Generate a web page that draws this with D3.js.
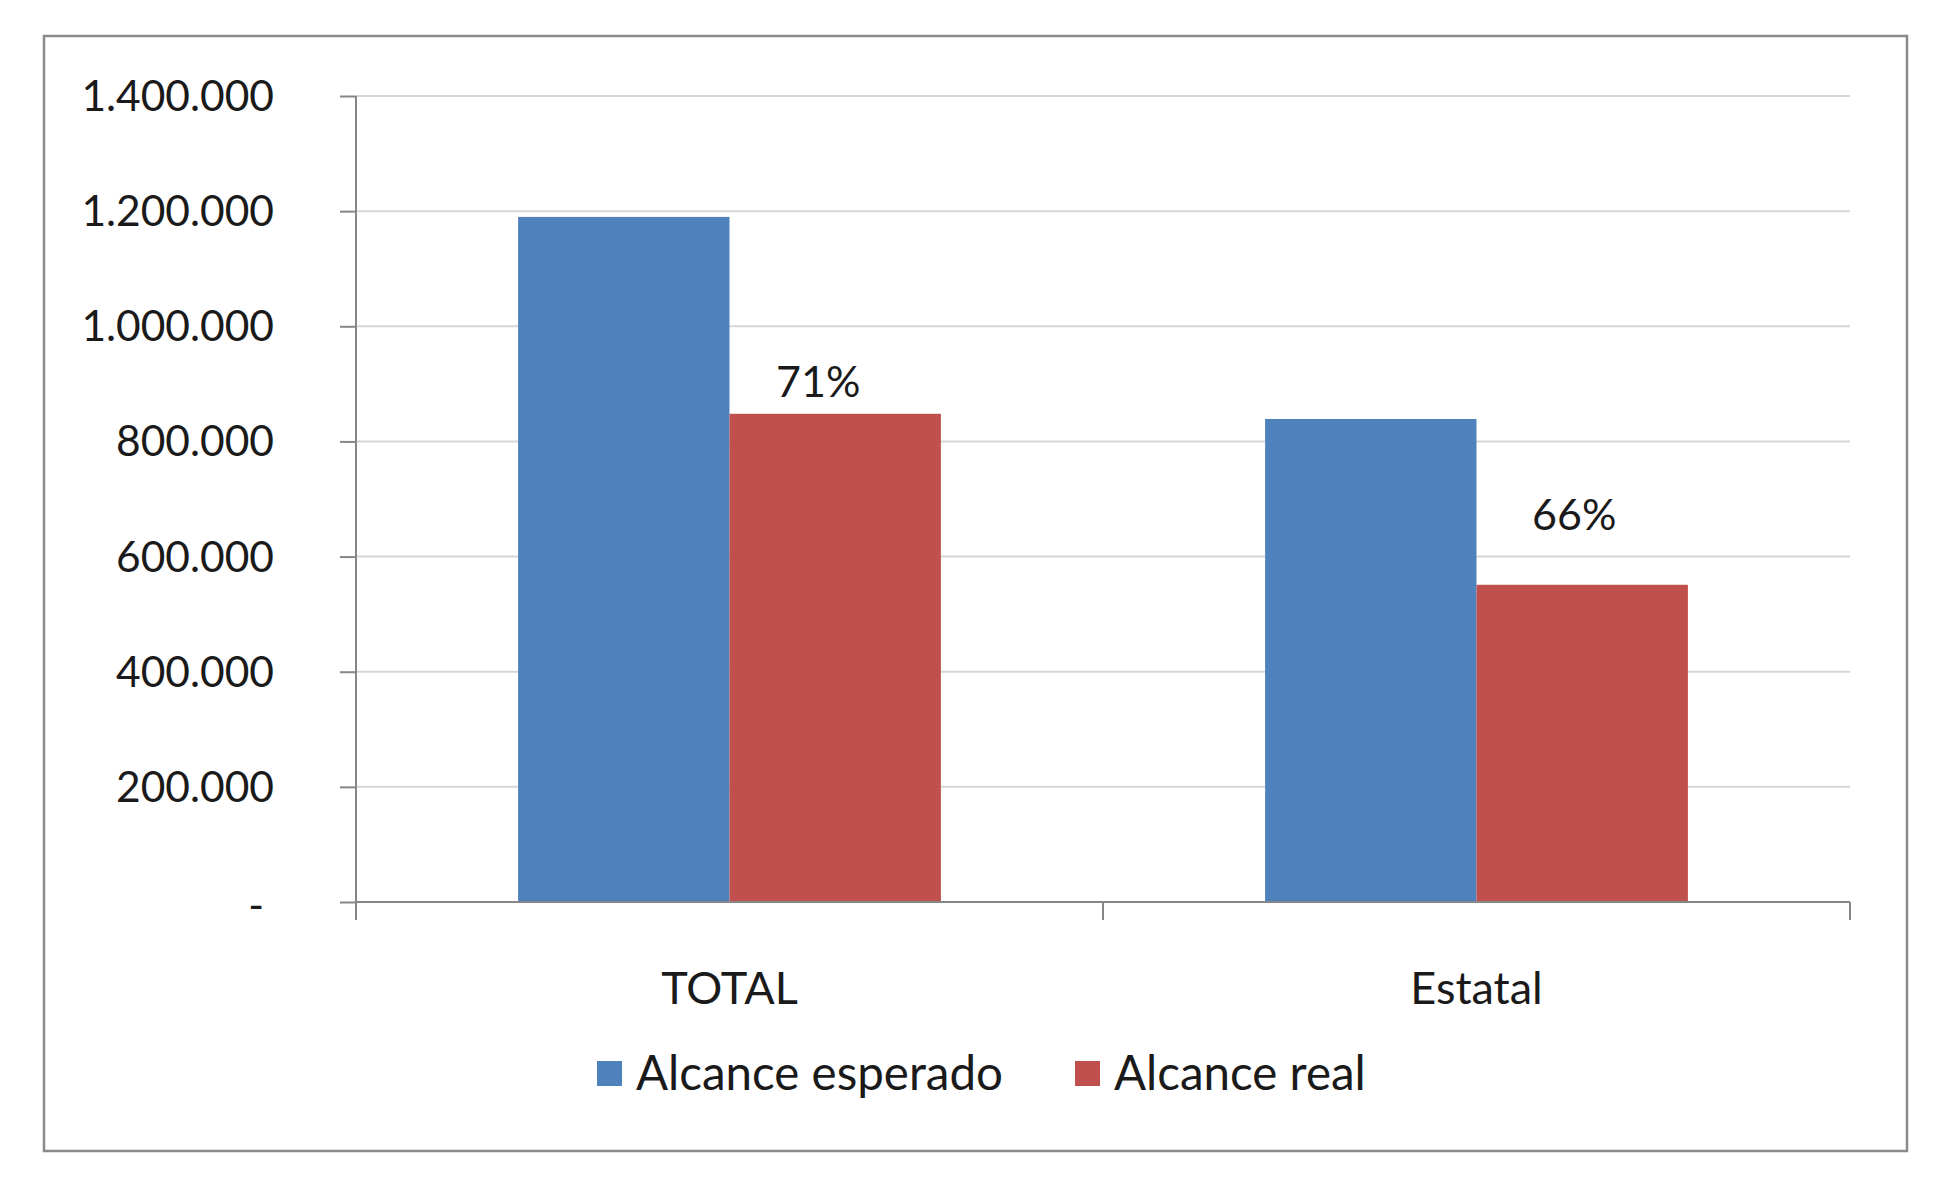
<!DOCTYPE html>
<html><head><meta charset="utf-8">
<script src="https://cdn.jsdelivr.net/npm/d3@7"></script>
<style>
html,body{margin:0;padding:0;background:#fff;}
svg text{font-family:Lato,"Open Sans",sans-serif;fill:#1a1a1a;}
</style></head>
<body>
<svg id="chart" width="1960" height="1199"></svg>
<script>
// ---- data ----
const categories = ["TOTAL", "Estatal"];
const seriesNames = ["Alcance esperado", "Alcance real"];
const alcanceEsperado = [1190000, 839000];
const alcanceReal = [848000, 551000];
const percentLabels = ["71%", "66%"];
const yTicks = [0, 200000, 400000, 600000, 800000, 1000000, 1200000, 1400000];
const colors = ["#4F81BD", "#C0504D"];

(function () {
const svg = d3.select("#chart");

// frame
svg.append("rect").attr("x", 44).attr("y", 36).attr("width", 1863).attr("height", 1115)
  .attr("fill", "#fff").attr("stroke", "#8a8a8a").attr("stroke-width", 2.5);

const pL = 356, pR = 1850, pT = 96, pB = 902;
const pad = 0.434;

const y = d3.scaleLinear().domain([0, 1400000]).range([pB, pT]);
const x0 = d3.scaleBand().domain(categories).range([pL, pR]).paddingInner(pad).paddingOuter(pad / 2);
const x1 = d3.scaleBand().domain(seriesNames).range([0, x0.bandwidth()]).padding(0);

const loc = d3.formatLocale({decimal: ",", thousands: ".", grouping: [3], currency: ["", ""]});
const fmt = loc.format(",d");

// gridlines
svg.append("g").selectAll("line").data(yTicks.filter(d => d > 0)).join("line")
  .attr("x1", pL).attr("x2", pR)
  .attr("y1", d => y(d)).attr("y2", d => y(d))
  .attr("stroke", "#d6d6d6").attr("stroke-width", 2);

// bars
const rows = categories.map((c, i) => ({cat: c, vals: [alcanceEsperado[i], alcanceReal[i]]}));
const g = svg.append("g").selectAll("g").data(rows).join("g")
  .attr("transform", d => `translate(${x0(d.cat)},0)`);
g.selectAll("rect").data(d => d.vals.map((v, j) => ({name: seriesNames[j], v, j}))).join("rect")
  .attr("x", d => x1(d.name)).attr("width", x1.bandwidth())
  .attr("y", d => y(d.v)).attr("height", d => y(0) - y(d.v))
  .attr("fill", d => colors[d.j]);

// y axis
const yAxis = d3.axisLeft(y).tickValues(yTicks).tickSize(16).tickPadding(66)
  .tickFormat(d => d === 0 ? "-" : fmt(d));
const ya = svg.append("g").attr("transform", `translate(${pL},0)`).call(yAxis);
ya.select(".domain").remove();
ya.selectAll(".tick line").attr("stroke", "#868686").attr("stroke-width", 2);
ya.selectAll(".tick text").attr("font-size", 42.5).attr("fill", "#1a1a1a")
  .attr("font-family", "Lato, sans-serif")
  .attr("dx", d => d === 0 ? -10 : 0).attr("dy", d => d === 0 ? "0.42em" : "0.34em");
svg.append("line").attr("x1", pL).attr("x2", pL).attr("y1", pT).attr("y2", pB + 18)
  .attr("stroke", "#868686").attr("stroke-width", 2);

// x axis
svg.append("line").attr("x1", pL).attr("x2", pR).attr("y1", pB).attr("y2", pB)
  .attr("stroke", "#868686").attr("stroke-width", 2);
const bounds = [pL, ...categories.map(c => x0(c) + x0.bandwidth() + x0.step() * pad / 2)];
svg.append("g").selectAll("line").data(bounds).join("line")
  .attr("x1", d => d).attr("x2", d => d).attr("y1", pB).attr("y2", pB + 18)
  .attr("stroke", "#868686").attr("stroke-width", 2);
svg.append("g").selectAll("text").data(categories).join("text")
  .attr("x", d => x0(d) + x0.bandwidth() / 2).attr("y", 1004)
  .attr("text-anchor", "middle").attr("font-size", 45).text(d => d);

// data labels
const labelOffset = [17, 55];
svg.append("g").selectAll("text").data(rows).join("text")
  .attr("x", (d, i) => x0(d.cat) + x1(seriesNames[1]) + x1.bandwidth() / 2 - [17, 8][i])
  .attr("y", (d, i) => y(d.vals[1]) - labelOffset[i])
  .attr("text-anchor", "middle").attr("font-size", 43).text((d, i) => percentLabels[i]);

// legend
const legend = svg.append("g");
const legX = [597, 1075];
seriesNames.forEach((n, i) => {
  legend.append("rect").attr("x", legX[i]).attr("y", 1061).attr("width", 25).attr("height", 25).attr("fill", colors[i]);
  legend.append("text").attr("x", legX[i] + 39).attr("y", 1090).attr("font-size", 47.5).text(n);
});
})();
</script>
</body></html>
